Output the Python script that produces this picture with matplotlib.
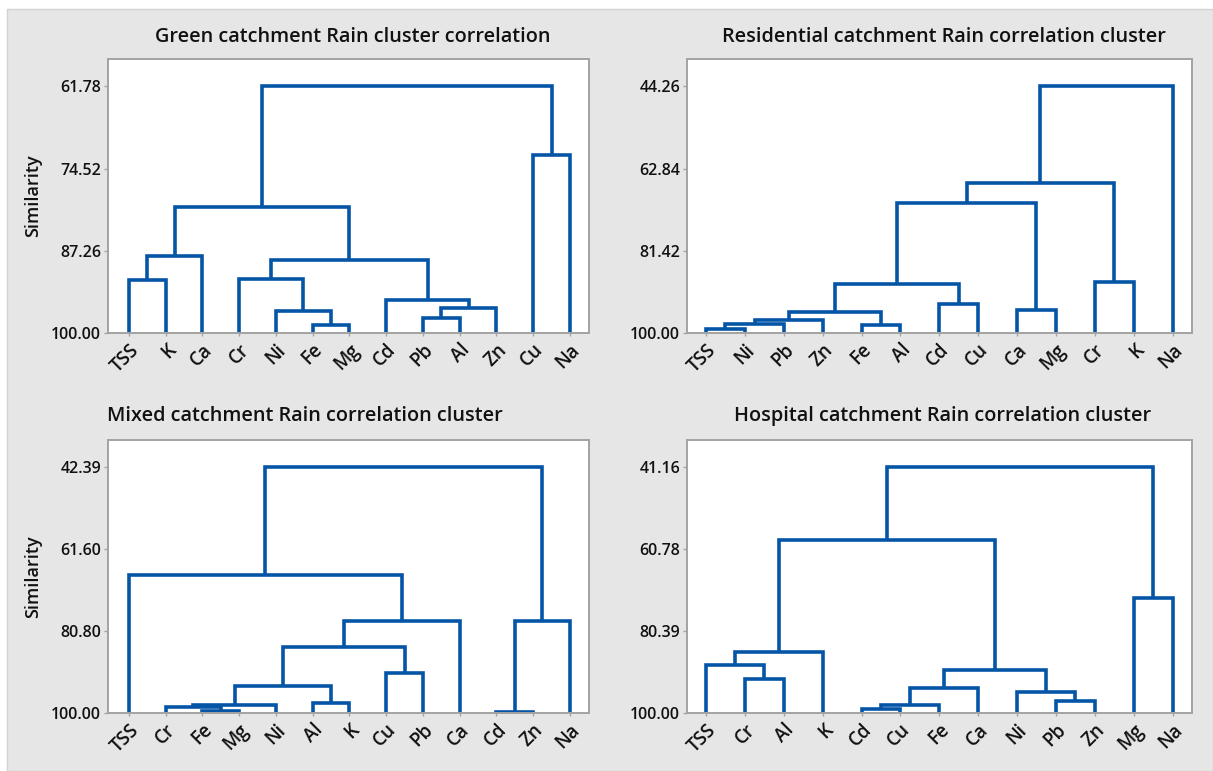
import matplotlib
matplotlib.use("Agg")
import matplotlib.pyplot as plt
from matplotlib.patches import Rectangle

plt.rcParams['font.family'] = ['Open Sans', 'DejaVu Sans']

# ---- Green catchment ----
green_labels = ["TSS", "K", "Ca", "Cr", "Ni", "Fe", "Mg", "Cd", "Pb", "Al", "Zn", "Cu", "Na"]
# merge k creates cluster id 13 + k (leaf ids are 0..12)
green_left = [5, 8, 4, 14, 7, 0, 3, 19, 18, 21, 11, 22]
green_right = [6, 9, 13, 10, 16, 1, 15, 17, 2, 20, 12, 23]
green_sim = [98.71, 97.67, 96.58, 96.06, 94.93, 91.71, 91.65, 88.71, 88.04, 80.42, 72.40, 61.78]
green_ticks = [61.78, 74.52, 87.26, 100.00]

# ---- Residential catchment ----
res_labels = ["TSS", "Ni", "Pb", "Zn", "Fe", "Al", "Cd", "Cu", "Ca", "Mg", "Cr", "K", "Na"]
res_left = [0, 4, 13, 15, 16, 8, 6, 17, 10, 20, 22, 23]
res_right = [1, 5, 2, 3, 14, 9, 7, 19, 11, 18, 21, 12]
res_sim = [99.00, 98.20, 98.00, 97.05, 95.20, 94.71, 93.35, 88.82, 88.37, 70.54, 66.16, 44.26]
res_ticks = [44.26, 62.84, 81.42, 100.00]

# ---- Mixed catchment ----
mixed_labels = ["TSS", "Cr", "Fe", "Mg", "Ni", "Al", "K", "Cu", "Pb", "Ca", "Cd", "Zn", "Na"]
mixed_left = [10, 2, 1, 15, 5, 16, 7, 18, 20, 13, 0, 23]
mixed_right = [11, 3, 14, 4, 6, 17, 8, 19, 9, 12, 21, 22]
mixed_sim = [99.77, 99.50, 98.55, 98.05, 97.65, 93.75, 90.62, 84.60, 78.50, 78.45, 67.56, 42.39]
mixed_ticks = [42.39, 61.60, 80.80, 100.00]

# ---- Hospital catchment ----
hosp_labels = ["TSS", "Cr", "Al", "K", "Cd", "Cu", "Fe", "Ca", "Ni", "Pb", "Zn", "Mg", "Na"]
hosp_left = [4, 13, 9, 8, 14, 1, 17, 0, 20, 11, 21, 23]
hosp_right = [5, 6, 10, 15, 7, 2, 16, 18, 3, 12, 19, 22]
hosp_sim = [99.04, 98.16, 97.05, 95.05, 94.01, 91.94, 89.78, 88.42, 85.31, 72.46, 58.64, 41.16]
hosp_ticks = [41.16, 60.78, 80.39, 100.00]

titles = ["Green catchment Rain cluster correlation",
          "Residential catchment Rain correlation cluster",
          "Mixed catchment Rain correlation cluster",
          "Hospital catchment Rain correlation cluster"]

LINE = "#0455a6"
SPINE = "#a3a3a3"
TEXT = "#111111"
W, H = 1213, 771

fig = plt.figure(figsize=(W / 100, H / 100), dpi=100, facecolor="white")
fig.patches.append(Rectangle((7 / W, 0), 1 - 7 / W, 1 - 9 / H, transform=fig.transFigure,
                             facecolor="#e6e6e6", edgecolor="#d2d2d2", lw=1, zorder=-10))


def fx(px):
    return px / W


def fy(py):
    return 1 - py / H


def dendro(ax, labels, left, right, sim, ticks, xlim):
    n = len(labels)
    xpos = {i: float(i) for i in range(n)}
    ypos = {i: 100.0 for i in range(n)}
    for k, (a, b, s) in enumerate(zip(left, right, sim)):
        xa, xb = xpos[a], xpos[b]
        ya, yb = ypos[a], ypos[b]
        ax.plot([xa, xa, xb, xb], [ya, s, s, yb], color=LINE, lw=2.6,
                solid_joinstyle="miter", solid_capstyle="butt", clip_on=False)
        xpos[n + k] = (xa + xb) / 2
        ypos[n + k] = s
    top = ticks[0]
    span = 100 - top
    ax.set_ylim(100, top - 0.1112 * span)
    ax.set_xlim(*xlim)
    ax.set_yticks(ticks)
    ax.set_yticklabels([f"{t:.2f}" for t in ticks], fontsize=11.5, fontweight="semibold")
    ax.set_xticks(range(n))
    ax.set_xticklabels(labels, rotation=45, ha="right", va="top", rotation_mode="anchor",
                       fontsize=13.5, fontweight="semibold")
    ax.tick_params(axis="both", colors=SPINE, labelcolor=TEXT, length=3, width=1)
    ax.tick_params(axis="x", length=2, pad=3)
    ax.tick_params(axis="y", pad=2)
    for sp in ax.spines.values():
        sp.set_color(SPINE)
        sp.set_linewidth(1.4)
    ax.set_facecolor("white")


boxes = [
    (108, 59, 589, 333),
    (687, 59, 1192, 333),
    (108, 440, 589, 713),
    (687, 440, 1192, 713),
]
xlims = [(-0.57, 12.52), (-0.49, 12.50), (-0.57, 12.52), (-0.49, 12.50)]
data = [
    (green_labels, green_left, green_right, green_sim, green_ticks),
    (res_labels, res_left, res_right, res_sim, res_ticks),
    (mixed_labels, mixed_left, mixed_right, mixed_sim, mixed_ticks),
    (hosp_labels, hosp_left, hosp_right, hosp_sim, hosp_ticks),
]
title_pos = [(353, 37), (944, 37), (305, 416), (943, 416)]

for (x0, y0, x1, y1), xl, d, t, tp in zip(boxes, xlims, data, titles, title_pos):
    ax = fig.add_axes([fx(x0), fy(y1), fx(x1 - x0), (y1 - y0) / H])
    dendro(ax, *d, xl)
    fig.text(fx(tp[0]), fy(tp[1]), t, ha="center", va="center", fontsize=14.3,
             fontweight="semibold", color=TEXT)

for yc in [(59 + 333) / 2, (440 + 713) / 2]:
    fig.text(fx(33), fy(yc), "Similarity", rotation=90, ha="center", va="center",
             fontsize=13, fontweight="semibold", color=TEXT)

fig.savefig("out.png", dpi=100, facecolor=fig.get_facecolor())
